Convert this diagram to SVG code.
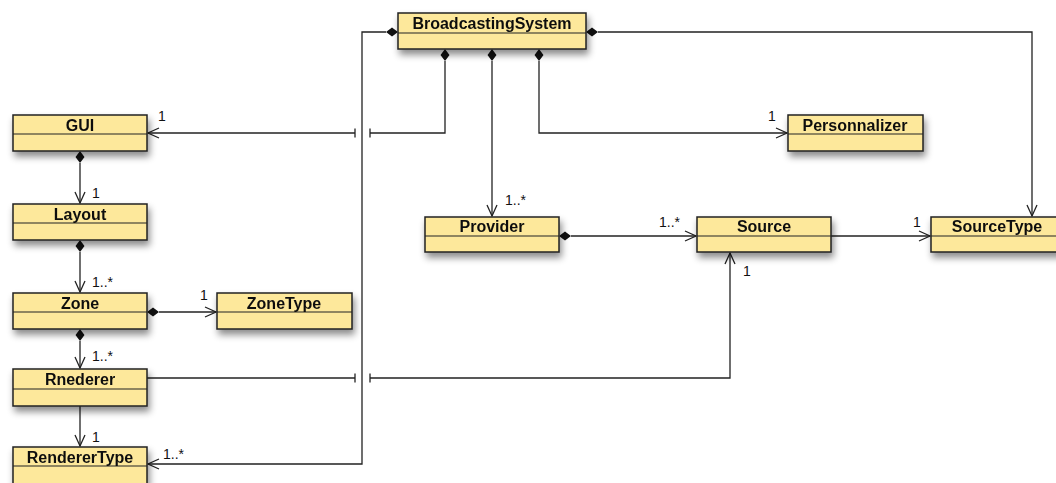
<svg xmlns="http://www.w3.org/2000/svg" width="1056" height="483" viewBox="0 0 1056 483">
<style>
.box{fill:#fde89b;stroke:#222;stroke-width:1.5}
.div{stroke:#222;stroke-width:1.2}
.name{font-family:"Liberation Sans",Arial,sans-serif;font-weight:bold;font-size:16px;fill:#111;text-anchor:middle}
.lbl{font-family:"Liberation Sans",Arial,sans-serif;font-size:14px;fill:#111}
.con{fill:none;stroke:#222;stroke-width:1.3}
</style>
<defs>
<filter id="sh" x="-20%" y="-30%" width="150%" height="190%">
<feDropShadow dx="2" dy="5" stdDeviation="3.5" flood-color="#000" flood-opacity="0.45"/>
</filter>
<marker id="arr" markerUnits="userSpaceOnUse" markerWidth="14" markerHeight="14" viewBox="-12 -7 14 14" refX="0" refY="0" orient="auto">
<path d="M-11,-5 L0,0 L-11,5" fill="none" stroke="#222" stroke-width="1.3"/>
</marker>
<marker id="tick" markerUnits="userSpaceOnUse" markerWidth="4" markerHeight="12" viewBox="-2 -6 4 12" refX="0" refY="0" orient="auto">
<path d="M0,-4.5 L0,4.5" stroke="#222" stroke-width="1.3"/>
</marker>
</defs>
<rect width="1056" height="483" fill="#fff"/>
<g id="connectors">
<path class="con" d="M386,32 H362 V464 H148" marker-end="url(#arr)"/>
<path class="con" d="M445,61 V133 H370" marker-end="url(#tick)"/>
<path class="con" d="M355,133 H148" marker-start="url(#tick)" marker-end="url(#arr)"/>
<path class="con" d="M492,61 V216" marker-end="url(#arr)"/>
<path class="con" d="M539,61 V133 H787" marker-end="url(#arr)"/>
<path class="con" d="M598,32 H1032 V216" marker-end="url(#arr)"/>
<path class="con" d="M831,236 H930" marker-end="url(#arr)"/>
<path class="con" d="M571,236 H696" marker-end="url(#arr)"/>
<path class="con" d="M147,378 H355" marker-end="url(#tick)"/>
<path class="con" d="M370,378 H730 V253" marker-start="url(#tick)" marker-end="url(#arr)"/>
<path class="con" d="M80,163 V203" marker-end="url(#arr)"/>
<path class="con" d="M80,252 V292" marker-end="url(#arr)"/>
<path class="con" d="M80,341 V368" marker-end="url(#arr)"/>
<path class="con" d="M159,312 H216" marker-end="url(#arr)"/>
<path class="con" d="M80,406 V446" marker-end="url(#arr)"/>
<path d="M386,32 L392,27.5 L398,32 L392,36.5 Z M586,32 L592,27.5 L598,32 L592,36.5 Z M445,49 L440.5,55 L445,61 L449.5,55 Z M492,49 L487.5,55 L492,61 L496.5,55 Z M539,49 L534.5,55 L539,61 L543.5,55 Z M559,236 L565,231.5 L571,236 L565,240.5 Z M80,151 L75.5,157 L80,163 L84.5,157 Z M80,240 L75.5,246 L80,252 L84.5,246 Z M80,329 L75.5,335 L80,341 L84.5,335 Z M147,312 L153,307.5 L159,312 L153,316.5 Z" fill="#111"/>
<text class="lbl" x="158" y="121">1</text>
<text class="lbl" x="163" y="459">1..*</text>
<text class="lbl" x="505" y="205">1..*</text>
<text class="lbl" x="768" y="121">1</text>
<text class="lbl" x="659" y="227">1..*</text>
<text class="lbl" x="913" y="227">1</text>
<text class="lbl" x="743" y="276">1</text>
<text class="lbl" x="92" y="198">1</text>
<text class="lbl" x="92" y="287">1..*</text>
<text class="lbl" x="92" y="361">1..*</text>
<text class="lbl" x="200" y="300">1</text>
<text class="lbl" x="92" y="442">1</text>
</g>
<g id="BroadcastingSystem" filter="url(#sh)">
<rect class="box" x="398" y="13" width="188" height="36"/>
<line class="div" x1="398" y1="33" x2="586" y2="33"/>
<text class="name" x="492" y="29">BroadcastingSystem</text>
</g>
<g id="GUI" filter="url(#sh)">
<rect class="box" x="13" y="115" width="134" height="36"/>
<line class="div" x1="13" y1="134" x2="147" y2="134"/>
<text class="name" x="80" y="131">GUI</text>
</g>
<g id="Layout" filter="url(#sh)">
<rect class="box" x="13" y="204" width="134" height="36"/>
<line class="div" x1="13" y1="223" x2="147" y2="223"/>
<text class="name" x="80" y="220">Layout</text>
</g>
<g id="Zone" filter="url(#sh)">
<rect class="box" x="13" y="293" width="134" height="36"/>
<line class="div" x1="13" y1="312" x2="147" y2="312"/>
<text class="name" x="80" y="309">Zone</text>
</g>
<g id="ZoneType" filter="url(#sh)">
<rect class="box" x="217" y="293" width="135" height="36"/>
<line class="div" x1="217" y1="312" x2="352" y2="312"/>
<text class="name" x="284" y="309">ZoneType</text>
</g>
<g id="Rnederer" filter="url(#sh)">
<rect class="box" x="13" y="369" width="134" height="37"/>
<line class="div" x1="13" y1="389" x2="147" y2="389"/>
<text class="name" x="80" y="385">Rnederer</text>
</g>
<g id="RendererType" filter="url(#sh)">
<rect class="box" x="13" y="447" width="134" height="37"/>
<line class="div" x1="13" y1="466" x2="147" y2="466"/>
<text class="name" x="80" y="463">RendererType</text>
</g>
<g id="Provider" filter="url(#sh)">
<rect class="box" x="425" y="217" width="134" height="35"/>
<line class="div" x1="425" y1="236" x2="559" y2="236"/>
<text class="name" x="492" y="232">Provider</text>
</g>
<g id="Source" filter="url(#sh)">
<rect class="box" x="697" y="217" width="134" height="35"/>
<line class="div" x1="697" y1="236" x2="831" y2="236"/>
<text class="name" x="764" y="232">Source</text>
</g>
<g id="SourceType" filter="url(#sh)">
<rect class="box" x="931" y="217" width="134" height="35"/>
<line class="div" x1="931" y1="236" x2="1065" y2="236"/>
<text class="name" x="997" y="232">SourceType</text>
</g>
<g id="Personnalizer" filter="url(#sh)">
<rect class="box" x="788" y="115" width="135" height="36"/>
<line class="div" x1="788" y1="134" x2="923" y2="134"/>
<text class="name" x="855" y="131">Personnalizer</text>
</g>
</svg>
